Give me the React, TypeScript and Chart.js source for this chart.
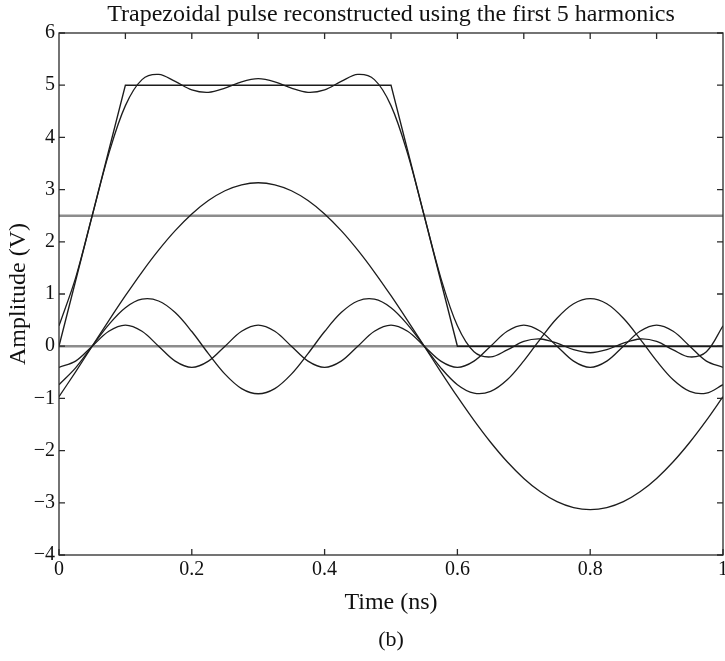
import React, { useEffect, useRef } from "react";
import { Chart, registerables } from "chart.js";

Chart.register(...registerables);

// ---- Data ----
const TIME_NS = [
  0, 0.025, 0.05, 0.075, 0.1, 0.125, 0.15, 0.175, 0.2, 0.225,
  0.25, 0.275, 0.3, 0.325, 0.35, 0.375, 0.4, 0.425, 0.45, 0.475,
  0.5, 0.525, 0.55, 0.575, 0.6, 0.625, 0.65, 0.675, 0.7, 0.725,
  0.75, 0.775, 0.8, 0.825, 0.85, 0.875, 0.9, 0.925, 0.95, 0.975, 1,
];

const FUNDAMENTAL = [
  -0.967, -0.49, 0, 0.49, 0.967, 1.421, 1.84, 2.214, 2.533, 2.79,
  2.978, 3.092, 3.131, 3.092, 2.978, 2.79, 2.533, 2.214, 1.84, 1.421,
  0.967, 0.49, 0, -0.49, -0.967, -1.421, -1.84, -2.214, -2.533, -2.79,
  -2.978, -3.092, -3.131, -3.092, -2.978, -2.79, -2.533, -2.214, -1.84, -1.421, -0.967,
];

const HARMONIC_3 = [
  -0.737, -0.414, 0, 0.414, 0.737, 0.9, 0.866, 0.644, 0.281, -0.142,
  -0.535, -0.812, -0.911, -0.812, -0.535, -0.142, 0.281, 0.644, 0.866, 0.9,
  0.737, 0.414, 0, -0.414, -0.737, -0.9, -0.866, -0.644, -0.281, 0.142,
  0.535, 0.812, 0.911, 0.812, 0.535, 0.142, -0.281, -0.644, -0.866, -0.9, -0.737,
];

const HARMONIC_5 = [
  -0.405, -0.286, 0, 0.286, 0.405, 0.286, 0, -0.286, -0.405, -0.286,
  0, 0.286, 0.405, 0.286, 0, -0.286, -0.405, -0.286, 0, 0.286,
  0.405, 0.286, 0, -0.286, -0.405, -0.286, 0, 0.286, 0.405, 0.286,
  0, -0.286, -0.405, -0.286, 0, 0.286, 0.405, 0.286, 0, -0.286, -0.405,
];

const RECONSTRUCTED = [
  0.391, 1.31, 2.5, 3.69, 4.609, 5.107, 5.206, 5.072, 4.909, 4.862,
  4.943, 5.066, 5.125, 5.066, 4.943, 4.862, 4.909, 5.072, 5.206, 5.107,
  4.609, 3.69, 2.5, 1.31, 0.391, -0.107, -0.206, -0.072, 0.091, 0.138,
  0.057, -0.066, -0.125, -0.066, 0.057, 0.138, 0.091, -0.072, -0.206, -0.107, 0.391,
];

const PULSE_T = [0, 0.1, 0.5, 0.6, 1];
const PULSE_V = [0, 5, 5, 0, 0];

const DC_LEVEL = 2.5;
const ZERO_LEVEL = 0;
const LEVEL_T = [0, 1];

const X_TICKS = [0, 0.2, 0.4, 0.6, 0.8, 1];
const X_TOP_TICKS = [0.1, 0.2, 0.3, 0.4, 0.5, 0.6, 0.7, 0.8, 0.9];
const Y_TICKS = [-4, -3, -2, -1, 0, 1, 2, 3, 4, 5, 6];

const TITLE = "Trapezoidal pulse reconstructed using the first 5 harmonics";
const X_TITLE = "Time (ns)";
const Y_TITLE = "Amplitude (V)";
const CAPTION = "(b)";

// ---- Styling ----
const SERIF = '"Liberation Serif", "Times New Roman", Times, serif';
const INK = "#111111";
const CURVE = "#1c1c1c";
const GREY = "#8c8c8c";

const pts = (xs: number[], ys: number[]) => xs.map((x, i) => ({ x, y: ys[i] }));

const fmt = (v: number) => {
  const n = Math.round(v * 1000) / 1000;
  if (n === 0) return "0";
  const s = String(Math.abs(n));
  return n < 0 ? "\u2212" + s : s;
};

const boxTicksPlugin = {
  id: "boxTicks",
  afterDatasetsDraw(chart: any) {
    const { ctx, chartArea: a, scales } = chart;
    const xs = scales.x;
    const ys = scales.y;
    const L = 6;
    ctx.save();
    ctx.strokeStyle = "#2a2a2a";
    ctx.lineWidth = 1.3;
    ctx.strokeRect(a.left, a.top, a.right - a.left, a.bottom - a.top);
    ctx.beginPath();
    for (const v of X_TICKS) {
      const px = xs.getPixelForValue(v);
      ctx.moveTo(px, a.bottom);
      ctx.lineTo(px, a.bottom - L);
    }
    for (const v of X_TOP_TICKS) {
      const px = xs.getPixelForValue(v);
      ctx.moveTo(px, a.top);
      ctx.lineTo(px, a.top + L);
    }
    for (const v of Y_TICKS) {
      const py = ys.getPixelForValue(v);
      ctx.moveTo(a.left, py);
      ctx.lineTo(a.left + L, py);
      ctx.moveTo(a.right, py);
      ctx.lineTo(a.right - L, py);
    }
    ctx.stroke();
    ctx.restore();
  },
};

export default function App() {
  const canvasRef = useRef<HTMLCanvasElement | null>(null);

  useEffect(() => {
    if (!canvasRef.current) return;
    const curve = (data: { x: number; y: number }[]) => ({
      data,
      borderColor: CURVE,
      borderWidth: 1.3,
      pointRadius: 0,
      fill: false,
      tension: 0.35,
    });
    const chart = new Chart(canvasRef.current, {
      type: "line",
      data: {
        datasets: [
          curve(pts(TIME_NS, RECONSTRUCTED)),
          curve(pts(TIME_NS, FUNDAMENTAL)),
          curve(pts(TIME_NS, HARMONIC_3)),
          curve(pts(TIME_NS, HARMONIC_5)),
          {
            data: pts(PULSE_T, PULSE_V),
            borderColor: CURVE,
            borderWidth: 1.4,
            pointRadius: 0,
            tension: 0,
            fill: false,
          },
          {
            data: pts(LEVEL_T, LEVEL_T.map(() => DC_LEVEL)),
            borderColor: GREY,
            borderWidth: 2.5,
            pointRadius: 0,
            fill: false,
          },
          {
            data: pts(LEVEL_T, LEVEL_T.map(() => ZERO_LEVEL)),
            borderColor: GREY,
            borderWidth: 2.5,
            pointRadius: 0,
            fill: false,
          },
        ],
      },
      options: {
        animation: false,
        responsive: false,
        events: [],
        layout: { padding: { left: 0, right: 2, top: 0, bottom: 0 } },
        plugins: {
          legend: { display: false },
          tooltip: { enabled: false },
          title: {
            display: true,
            fullSize: false,
            text: TITLE,
            color: INK,
            font: { family: SERIF, size: 24, weight: "normal" },
            padding: { top: 0, bottom: 4.2 },
          },
          subtitle: {
            display: true,
            fullSize: false,
            position: "bottom",
            text: CAPTION,
            color: INK,
            font: { family: SERIF, size: 22, weight: "normal" },
            padding: { top: 0, bottom: 7.8 },
          },
        },
        scales: {
          x: {
            type: "linear",
            min: 0,
            max: 1,
            grid: { display: false, drawTicks: false },
            border: { display: false },
            afterBuildTicks: (s: any) => {
              s.ticks = X_TICKS.map((value) => ({ value }));
            },
            ticks: {
              autoSkip: false,
              maxRotation: 0,
              padding: 3,
              color: INK,
              font: { family: SERIF, size: 20 },
              callback: (v: any) => fmt(Number(v)),
            },
            title: {
              display: true,
              text: X_TITLE,
              color: INK,
              font: { family: SERIF, size: 24 },
              padding: { top: 0, bottom: 9.6 },
            },
            afterFit: (s: any) => {
              s.height = 71.8;
              s.paddingLeft = 0;
              s.paddingRight = 0;
            },
          },
          y: {
            type: "linear",
            min: -4,
            max: 6,
            grid: { display: false, drawTicks: false },
            border: { display: false },
            afterBuildTicks: (s: any) => {
              s.ticks = Y_TICKS.map((value) => ({ value }));
            },
            ticks: {
              autoSkip: false,
              padding: 4,
              color: INK,
              font: { family: SERIF, size: 20 },
              callback: (v: any) => fmt(Number(v)),
            },
            title: {
              display: true,
              text: Y_TITLE,
              color: INK,
              font: { family: SERIF, size: 24 },
              padding: { top: 4, bottom: 0 },
            },
            afterFit: (s: any) => {
              s.width = 59;
              s.paddingTop = 0;
              s.paddingBottom = 0;
            },
          },
        },
      },
      plugins: [boxTicksPlugin],
    } as any);
    return () => chart.destroy();
  }, []);

  return (
    <div style={{ position: "absolute", left: 0, top: 0, width: 725, height: 661, background: "#fff" }}>
      <canvas ref={canvasRef} width={725} height={661} style={{ display: "block" }} />
    </div>
  );
}
